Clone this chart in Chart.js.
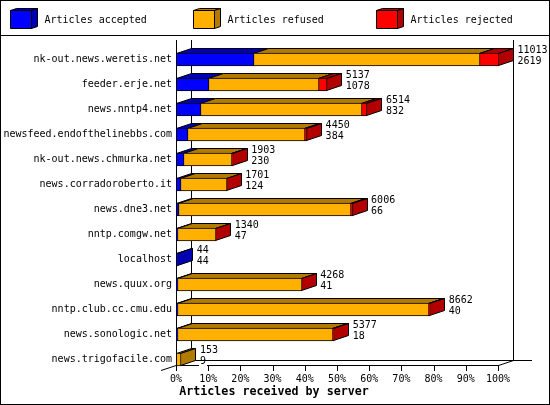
<!DOCTYPE html>
<html>
<head>
<meta charset="utf-8">
<title>Articles received by server</title>
<style>
  html, body { margin: 0; padding: 0; background: #fff; }
  canvas { display: block; }
</style>
<script src="https://cdn.jsdelivr.net/npm/chart.js@4"></script>
</head>
<body>
<canvas id="myChart" width="550" height="405"></canvas>
<script>
const servers = ["nk-out.news.weretis.net", "feeder.erje.net", "news.nntp4.net",
  "newsfeed.endofthelinebbs.com", "nk-out.news.chmurka.net", "news.corradoroberto.it",
  "news.dne3.net", "nntp.comgw.net", "localhost", "news.quux.org",
  "nntp.club.cc.cmu.edu", "news.sonologic.net", "news.trigofacile.com"]
const accepted = [2619, 1078, 832, 384, 230, 124, 66, 47, 44, 41, 40, 18, 9]
const refused = [7754, 3785, 5497, 4006, 1668, 1572, 5890, 1290, 0, 4224, 8592, 5334, 144]
const rejected = [640, 274, 185, 60, 5, 5, 50, 3, 0, 3, 30, 25, 0]
const totals = [11013, 5137, 6514, 4450, 1903, 1701, 6006, 1340, 44, 4268, 8662, 5377, 153]
const tickPercents = [0, 10, 20, 30, 40, 50, 60, 70, 80, 90, 100]
const maxTotal = 11013
const axisTitle = "Articles received by server"

const labelFont = '10px "DejaVu Sans Mono"'
const dark = { "#0000ff": "#0000b2", "#ffb000": "#b27b00", "#ff0000": "#b20000" }
const DX = 15, DY = 5

function poly(ctx, pts, fill) {
  ctx.beginPath()
  ctx.moveTo(pts[0][0], pts[0][1])
  for (let i = 1; i < pts.length; i++) ctx.lineTo(pts[i][0], pts[i][1])
  ctx.closePath()
  if (fill) { ctx.fillStyle = fill; ctx.fill() }
  ctx.stroke()
}

function line(ctx, x1, y1, x2, y2) {
  ctx.beginPath()
  ctx.moveTo(x1, y1)
  ctx.lineTo(x2, y2)
  ctx.stroke()
}

const box3d = {
  id: "box3d",
  // snap the bars to whole pixels so the outlines stay sharp
  afterDatasetsUpdate(chart) {
    chart.data.datasets.forEach((ds, d) => {
      chart.getDatasetMeta(d).data.forEach(el => {
        el.x = Math.round(el.x)
        el.base = Math.round(el.base)
      })
    })
  },
  beforeDatasetsDraw(chart) {
    const ctx = chart.ctx
    const xs = chart.scales.x
    const x0 = Math.floor(xs.getPixelForValue(0) - 0.5) + 0.5
    const x1 = Math.floor(xs.getPixelForValue(maxTotal) - 0.5) + 0.5
    ctx.save()
    ctx.strokeStyle = "#000"
    ctx.lineWidth = 1

    // frame and legend rule
    ctx.strokeRect(0.5, 0.5, 549, 404)
    line(ctx, 0, 35.5, 550, 35.5)

    // walls and floor
    line(ctx, x0 + DX, 40, x0 + DX, 360)
    line(ctx, x1 + DX, 40, x1 + DX, 361)
    line(ctx, x0 + DX, 360.5, 532, 360.5)
    line(ctx, x0, 365.5, x1, 365.5)
    line(ctx, 161, 370.5, x0 + DX, 360.5)
    line(ctx, x1, 365.5, x1 + DX, 360.5)

    // top and end faces of the bars
    servers.forEach((name, i) => {
      let last = null
      chart.data.datasets.forEach((ds, d) => {
        const el = chart.getDatasetMeta(d).data[i]
        if (ds.data[i] <= 0) return
        const top = el.y - 6
        if (el.x > el.base) {
          poly(ctx, [[el.base - 0.5, top], [el.base - 0.5 + DX, top - DY],
            [el.x - 0.5 + DX, top - DY], [el.x - 0.5, top]], dark[ds.backgroundColor])
        }
        last = { el, ds }
      })
      if (last) {
        const top = last.el.y - 6, bottom = last.el.y + 6, r = last.el.x - 0.5
        poly(ctx, [[r, top], [r + DX, top - DY], [r + DX, bottom - DY], [r, bottom]],
          dark[last.ds.backgroundColor])
      }
    })
    ctx.restore()
  },
  afterDatasetsDraw(chart) {
    const ctx = chart.ctx
    const xs = chart.scales.x
    const meta = chart.getDatasetMeta(0)
    ctx.save()
    ctx.strokeStyle = "#000"
    ctx.lineWidth = 1

    // front axis and its ticks
    const x0 = Math.floor(xs.getPixelForValue(0) - 0.5) + 0.5
    line(ctx, x0, 40, x0, 371)
    xs.ticks.forEach(t => {
      const px = Math.floor(xs.getPixelForValue(t.value) - 0.5) + 0.5
      line(ctx, px, 365, px, 371)
    })

    // value labels beside each bar
    ctx.font = labelFont
    ctx.textBaseline = "middle"
    ctx.textAlign = "left"
    servers.forEach((name, i) => {
      const y = meta.data[i].y
      const tx = xs.getPixelForValue(totals[i]) + DX + 3.5
      const small = String(accepted[i])
      ctx.fillStyle = "#fff"
      ctx.fillRect(tx - 1, y + 3, small.length * 6 + 2, 9)
      ctx.fillStyle = "#000"
      ctx.fillText(String(totals[i]), tx, y - 9)
      ctx.fillText(small, tx, y + 2)
    })

    // legend
    const legendX = [10.5, 193.5, 376.5]
    chart.data.datasets.forEach((ds, d) => {
      const lx = legendX[d]
      poly(ctx, [[lx, 10.5], [lx + 6, 8.5], [lx + 27, 8.5], [lx + 21, 10.5]], dark[ds.backgroundColor])
      poly(ctx, [[lx + 21, 10.5], [lx + 27, 8.5], [lx + 27, 26.5], [lx + 21, 28.5]], dark[ds.backgroundColor])
      poly(ctx, [[lx, 10.5], [lx + 21, 10.5], [lx + 21, 28.5], [lx, 28.5]], ds.backgroundColor)
      ctx.fillStyle = "#000"
      ctx.fillText(ds.label, lx + 34, 20)
    })

    // the title is centred on the whole picture, not on the axis
    ctx.font = 'bold 11.67px "DejaVu Sans Mono"'
    ctx.textAlign = "center"
    ctx.fillText(axisTitle, 274, 392)
    ctx.restore()
  }
}

const makeSet = (label, data, color) => ({
  label: label,
  data: data,
  backgroundColor: color,
  borderColor: "#000",
  borderWidth: 1,
  barThickness: 13
})

new Chart(document.querySelector("#myChart"), {
  type: "bar",
  data: {
    labels: servers,
    datasets: [
      makeSet("Articles accepted", accepted, "#0000ff"),
      makeSet("Articles refused", refused, "#ffb000"),
      makeSet("Articles rejected", rejected, "#ff0000")
    ]
  },
  options: {
    indexAxis: "y",
    responsive: false,
    devicePixelRatio: 1,
    animation: false,
    events: [],
    layout: { padding: { top: 47, right: 51, left: 0, bottom: 20 } },
    plugins: {
      legend: { display: false },
      tooltip: { enabled: false }
    },
    scales: {
      x: {
        stacked: true,
        min: 0,
        max: maxTotal,
        grid: { display: false, drawTicks: false },
        border: { display: false },
        afterBuildTicks: s => { s.ticks = tickPercents.map(p => ({ value: p / 100 * maxTotal })) },
        afterFit: s => { s.height = 13 },
        ticks: {
          autoSkip: false,
          maxRotation: 0,
          padding: 1,
          labelOffset: -1,
          color: "#000",
          font: { family: "DejaVu Sans Mono", size: 10 },
          callback: (v, i) => tickPercents[i] + "%"
        }
      },
      y: {
        stacked: true,
        grid: { display: false, drawTicks: false },
        border: { display: false },
        afterFit: s => { s.width = 177 },
        ticks: {
          autoSkip: false,
          padding: 5,
          color: "#000",
          font: { family: "DejaVu Sans Mono", size: 10 }
        }
      }
    }
  },
  plugins: [box3d]
})
</script>
</body>
</html>
